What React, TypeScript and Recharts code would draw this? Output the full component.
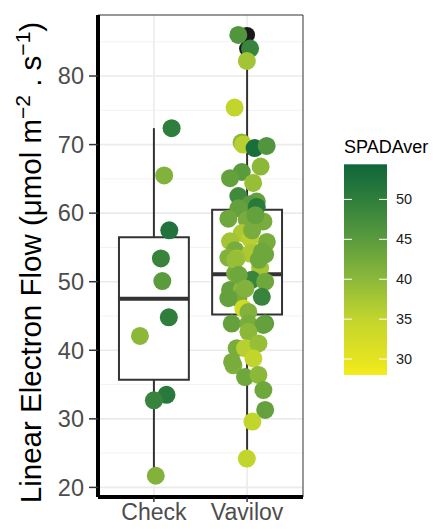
import React from "react";
import {
  ComposedChart,
  Scatter,
  XAxis,
  YAxis,
  CartesianGrid,
  ReferenceArea,
  ReferenceLine,
} from "recharts";

// categories + boxplot stats
const categories = ["Check", "Vavilov"];
const boxLower = [21.7, 24.2];
const boxQ1 = [35.7, 45.2];
const boxMedian = [47.5, 51.1];
const boxQ3 = [56.5, 60.5];
const boxUpper = [72.4, 82.2];
const vavilovOutliers = [86.0, 84.0];

// Check points
const checkValues = [72.4, 65.5, 57.5, 53.4, 50.1, 44.8, 42.1, 33.5, 32.7, 21.7];
const checkJitter = [0.19, 0.11, 0.165, 0.075, 0.09, 0.16, -0.15, 0.135, 0.0, 0.02];
const checkSpad = [50, 41, 52, 49, 45, 50, 40, 51, 49, 41];

// Vavilov points
const vavilovValues = [
  86.0, 84.0, 82.2, 75.4, 70.3, 70.0, 69.5, 69.8, 66.8, 66.0, 65.1, 64.4, 62.5,
  61.7, 61.3, 60.9, 60.7, 59.2, 59.0, 58.8, 57.1, 55.9, 55.8, 56.3, 54.6, 54.0,
  54.1, 53.5, 53.4, 52.0, 51.2, 50.3, 50.0, 48.8, 48.8, 47.8, 47.6, 47.6, 46.1,
  45.6, 43.9, 43.9, 43.9, 43.7, 42.7, 40.3, 40.3, 41.0, 38.8, 37.8, 36.1, 36.4,
  34.2, 31.3, 29.6, 24.2, 57.5, 59.7, 54.4, 53.2, 53.2, 51.0, 49.0, 38.3,
];
const vavilovJitter = [
  -0.094, 0.032, -0.003, -0.134, -0.059, -0.043, 0.081, 0.21, 0.145, -0.057,
  -0.183, 0.065, -0.094, 0.104, 0.032, 0.104, -0.094, -0.201, -0.003, 0.175,
  -0.057, -0.183, 0.212, 0.032, -0.129, 0.194, 0.032, -0.201, -0.111, 0.14,
  -0.129, 0.051, 0.194, -0.183, -0.057, 0.158, -0.094, -0.201, -0.04, 0.014,
  -0.165, 0.194, 0.014, 0.175, 0.014, -0.111, -0.022, 0.122, 0.068, -0.147,
  -0.022, 0.122, 0.175, 0.194, 0.057, -0.003, 0.054, 0.089, 0.161, -0.126,
  0.126, -0.089, -0.018, -0.161,
];
const vavilovSpad = [
  46, 49, 38, 35, 40, 36, 53, 46, 40, 45, 44, 39, 48, 44, 45, 51, 44, 43, 42,
  42, 37, 38, 42, 36, 42, 43, 37, 41, 38, 38, 42, 49, 43, 44, 40, 49, 42, 44,
  33, 41, 44, 45, 42, 44, 40, 42, 36, 39, 35, 41, 43, 40, 43, 44, 35, 35, 42,
  44, 43, 39, 43, 43, 41, 42,
];

const yTicks = [20, 30, 40, 50, 60, 70, 80];
const yMinor = [25, 35, 45, 55, 65, 75, 85];
const legendTicks = [30, 35, 40, 45, 50];

// colour scale
const SPAD_MIN = 28;
const SPAD_MAX = 54.4;
const stopValues = [28, 30, 35, 40, 45, 50, 54.4];
const stopColors = ["#F4EC1C", "#E4E320", "#C2D52D", "#8CB83A", "#5A9B3E", "#2F7E3C", "#10663A"];

const hex = (c: string) => [1, 3, 5].map((i) => parseInt(c.slice(i, i + 2), 16));
function spadColor(v: number) {
  let i = 0;
  while (i < stopValues.length - 2 && v > stopValues[i + 1]) i++;
  const t = Math.max(0, Math.min(1, (v - stopValues[i]) / (stopValues[i + 1] - stopValues[i])));
  const a = hex(stopColors[i]);
  const b = hex(stopColors[i + 1]);
  const m = a.map((x, k) => Math.round(x + (b[k] - x) * t));
  return `rgb(${m[0]},${m[1]},${m[2]})`;
}

const checkPoints = checkValues.map((y, i) => ({ x: 1 + checkJitter[i], y, spad: checkSpad[i] }));
const vavilovPoints = vavilovValues.map((y, i) => ({ x: 2 + vavilovJitter[i], y, spad: vavilovSpad[i] }));
const outlierPoints = vavilovOutliers.map((y) => ({ x: 2, y }));

const FONT = "'Liberation Sans', Arial, sans-serif";
const BOX_HALF = 0.375;
const Y_DOMAIN: [number, number] = [18.6, 88.9];

const dot = (props: any) => (
  <circle cx={props.cx} cy={props.cy} r={9} fill={spadColor(props.payload.spad)} />
);
const outlierDot = (props: any) => <circle cx={props.cx} cy={props.cy} r={8} fill="#1A1A1A" />;

// colour bar geometry
const barX = 344;
const barTop = 164.3;
const barH = 210.7;
const barW = 43;
const spadY = (v: number) => barTop + ((SPAD_MAX - v) / (SPAD_MAX - SPAD_MIN)) * barH;

export default function App() {
  return (
    <div style={{ position: "absolute", left: 0, top: 0, width: 438, height: 529, background: "#fff", fontFamily: FONT }}>
      <ComposedChart width={438} height={529} margin={{ top: 15, right: 135, bottom: 2, left: 0 }}>
        <CartesianGrid horizontalValues={yMinor} vertical={false} stroke="#F3F3F3" strokeWidth={1} />
        <CartesianGrid horizontalValues={yTicks} verticalValues={[1, 2]} stroke="#EBEBEB" strokeWidth={1.6} />
        <XAxis
          type="number"
          dataKey="x"
          domain={[0.4, 2.6]}
          ticks={[1, 2]}
          allowDataOverflow
          tickFormatter={(v) => categories[v - 1]}
          height={30}
          axisLine={{ stroke: "#000", strokeWidth: 4 }}
          tickLine={{ stroke: "#333", strokeWidth: 1.5 }}
          tickSize={5}
          tickMargin={2}
          tick={{ fill: "#4D4D4D", fontSize: 23, fontFamily: FONT }}
        />
        <YAxis
          type="number"
          dataKey="y"
          domain={Y_DOMAIN}
          ticks={yTicks}
          allowDataOverflow
          width={98}
          axisLine={{ stroke: "#000", strokeWidth: 4 }}
          tickLine={{ stroke: "#333", strokeWidth: 1.5 }}
          tickSize={9}
          tickMargin={5}
          tick={{ fill: "#4D4D4D", fontSize: 23.5, fontFamily: FONT }}
        />
        <ReferenceArea x1={0.4} x2={2.6} y1={Y_DOMAIN[0]} y2={Y_DOMAIN[1]} fill="none" stroke="#333" strokeWidth={1} />
        {categories.map((c, i) => (
          <ReferenceLine
            key={c + "-lw"}
            segment={[{ x: i + 1, y: boxLower[i] }, { x: i + 1, y: boxQ1[i] }]}
            stroke="#333"
            strokeWidth={2}
          />
        ))}
        {categories.map((c, i) => (
          <ReferenceLine
            key={c + "-uw"}
            segment={[{ x: i + 1, y: boxQ3[i] }, { x: i + 1, y: boxUpper[i] }]}
            stroke="#333"
            strokeWidth={2}
          />
        ))}
        {categories.map((c, i) => (
          <ReferenceArea
            key={c + "-box"}
            x1={i + 1 - BOX_HALF}
            x2={i + 1 + BOX_HALF}
            y1={boxQ1[i]}
            y2={boxQ3[i]}
            fill="#fff"
            fillOpacity={1}
            stroke="#333"
            strokeWidth={2}
          />
        ))}
        {categories.map((c, i) => (
          <ReferenceLine
            key={c + "-med"}
            segment={[{ x: i + 1 - BOX_HALF, y: boxMedian[i] }, { x: i + 1 + BOX_HALF, y: boxMedian[i] }]}
            stroke="#333"
            strokeWidth={4}
          />
        ))}
        <Scatter data={outlierPoints} dataKey="y" shape={outlierDot} isAnimationActive={false} />
        <Scatter data={checkPoints} dataKey="y" shape={dot} isAnimationActive={false} />
        <Scatter data={vavilovPoints} dataKey="y" shape={dot} isAnimationActive={false} />
      </ComposedChart>

      <svg width={438} height={529} style={{ position: "absolute", left: 0, top: 0, pointerEvents: "none" }}>
        <text
          transform="translate(41,262.5) rotate(-90)"
          textAnchor="middle"
          fontSize={29.5}
          fontFamily={FONT}
          fill="#000"
        >
          Linear Electron Flow (μmol m
          <tspan dy={-11} fontSize={21}>−2</tspan>
          <tspan dy={11}> . s</tspan>
          <tspan dy={-11} fontSize={21}>−1</tspan>
          <tspan dy={11}>)</tspan>
        </text>

        <defs>
          <linearGradient id="spadGrad" x1="0" y1="1" x2="0" y2="0">
            {stopValues.map((v, i) => (
              <stop key={v} offset={(v - SPAD_MIN) / (SPAD_MAX - SPAD_MIN)} stopColor={stopColors[i]} />
            ))}
          </linearGradient>
        </defs>
        <text x={barX} y={153} fontSize={18} fontFamily={FONT} fill="#000">
          SPADAver
        </text>
        <rect x={barX} y={barTop} width={barW} height={barH} fill="url(#spadGrad)" />
        {legendTicks.map((t) => (
          <g key={t}>
            <line x1={barX} x2={barX + 8} y1={spadY(t)} y2={spadY(t)} stroke="#fff" strokeWidth={1} />
            <line x1={barX + barW - 8} x2={barX + barW} y1={spadY(t)} y2={spadY(t)} stroke="#fff" strokeWidth={1} />
            <text x={396} y={spadY(t)} dy="0.35em" fontSize={14.5} fontFamily={FONT} fill="#1A1A1A">
              {t}
            </text>
          </g>
        ))}
      </svg>
    </div>
  );
}
